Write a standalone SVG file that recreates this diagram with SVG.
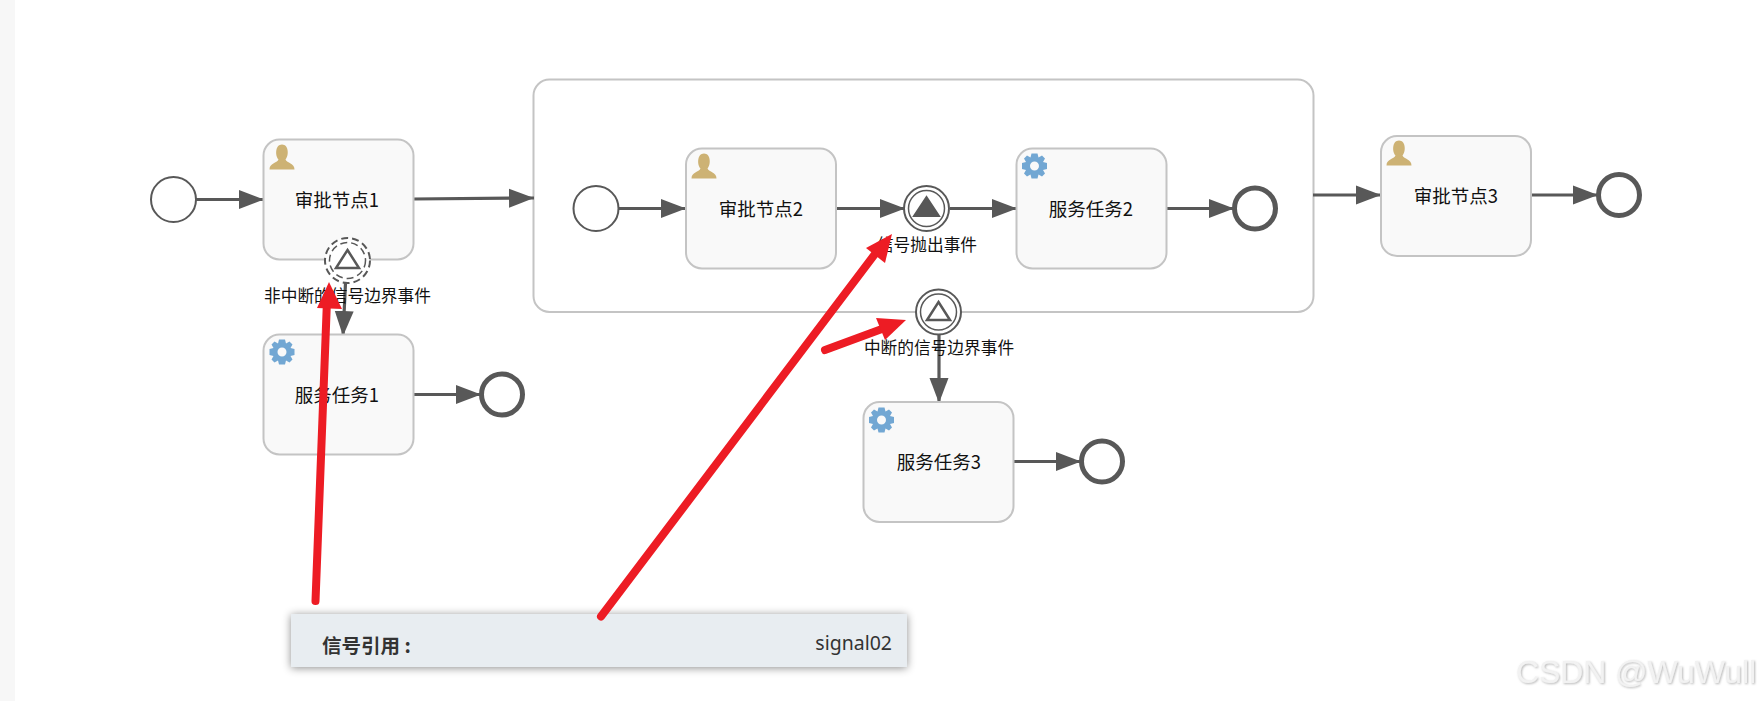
<svg xmlns="http://www.w3.org/2000/svg" width="1761" height="701" viewBox="0 0 1761 701">
<style>
.task{fill:#f9f9f9;stroke:#c4c4c4;stroke-width:2}
.sub{fill:#fff;stroke:#c4c4c4;stroke-width:2}
.start{fill:#fff;stroke:#585858;stroke-width:2}
.end{fill:#fff;stroke:#585858;stroke-width:5}
.ev{fill:#fff;stroke:#585858;stroke-width:2}
.ev2{fill:none;stroke:#585858;stroke-width:1.5}
.dash{stroke-dasharray:7 4}
.tri{fill:none;stroke:#585858;stroke-width:2.500}
.flow{fill:none;stroke:#585858;stroke-width:3.200;marker-end:url(#ah)}
.t{font-family:"Noto Sans CJK SC","Noto Sans",sans-serif;fill:#111;text-anchor:middle}
.tl{font-size:18.500px}
.el{font-size:16.700px}
.red{fill:none;stroke:#ed1c24;stroke-width:8;stroke-linecap:round}
.redh{fill:#ed1c24}
.u{fill:#cdb274}
.g{fill:#72a7d3}
</style>
<defs>
<marker id="ah" markerUnits="userSpaceOnUse" markerWidth="25" markerHeight="20" refX="25" refY="10" orient="auto"><path d="M0 0.500L25 10L0 19.500Z" fill="#585858"/></marker>
<filter id="sh" x="-5%" y="-30%" width="110%" height="160%"><feDropShadow dx="0" dy="1" stdDeviation="4" flood-color="#000" flood-opacity=".45"/></filter>
<filter id="wm" x="-5%" y="-20%" width="110%" height="140%"><feDropShadow dx="1" dy="1" stdDeviation=".8" flood-color="#888" flood-opacity=".6"/></filter>
<g id="user"><path class="u" d="M-12.500 12.500C-12.500 6 -5 6 -3.500 2.500C-7 -1 -7 -12.500 0 -12.500C7 -12.500 7 -1 3.500 2.500C5 6 12.500 6 12.500 12.500Z"/></g>
<g id="gear"><path class="g" fill-rule="evenodd" d="M-3 -12.500H3L4 -8.500L7.500 -10.500L10.500 -7.500L8.500 -4L12.500 -3V3L8.500 4L10.500 7.500L7.500 10.500L4 8.500L3 12.500H-3L-4 8.500L-7.500 10.500L-10.500 7.500L-8.500 4L-12.500 3V-3L-8.500 -4L-10.500 -7.500L-7.500 -10.500L-4 -8.500ZM0 -4.500A4.500 4.500 0 1 0 0 4.500A4.500 4.500 0 1 0 0 -4.500Z"/></g>
</defs>
<rect width="1761" height="701" fill="#fff"/>
<rect width="15" height="701" fill="#f7f7f7"/>
<g id="sub-process"><rect class="sub" x="533.500" y="79.500" width="780" height="232.500" rx="16"/></g>
<g id="connectors">
<path class="flow" d="M196 199.500H264"/>
<path class="flow" d="M413 199L534 198"/>
<path class="flow" d="M345.500 283L343 336"/>
<path class="flow" d="M413 394.500H481"/>
<path class="flow" d="M618 208.500H686"/>
<path class="flow" d="M836 208.500H905"/>
<path class="flow" d="M950 208.500H1017"/>
<path class="flow" d="M1166 208.500H1234"/>
<path class="flow" d="M1313 195H1381"/>
<path class="flow" d="M1531 195H1598"/>
<path class="flow" d="M939 335V403"/>
<path class="flow" d="M1013 461.500H1081"/>
</g>
<g id="start1"><circle class="start" cx="173.500" cy="199.500" r="22.500"/></g>
<g id="task1"><rect class="task" x="263.500" y="139.500" width="150" height="120" rx="16"/><use href="#user" x="282" y="157"/><text class="t tl" x="337" y="207">审批节点1</text></g>
<g id="boundary1"><circle class="ev dash" cx="347.500" cy="260.500" r="22.500"/><circle class="ev2 dash" cx="347.500" cy="260.500" r="18"/><path class="tri" d="M347.500 250L359 268H336Z"/><text class="t el" x="347.500" y="302">非中断的信号边界事件</text></g>
<g id="task-svc1"><rect class="task" x="263.500" y="334.500" width="150" height="120" rx="16"/><use href="#gear" x="282" y="352"/><text class="t tl" x="337" y="402">服务任务1</text></g>
<g id="end1"><circle class="end" cx="502" cy="394.500" r="20.500"/></g>
<g id="start2"><circle class="start" cx="596" cy="208.500" r="22.500"/></g>
<g id="task2"><rect class="task" x="686" y="148.500" width="150" height="120" rx="16"/><use href="#user" x="704" y="166"/><text class="t tl" x="761" y="216">审批节点2</text></g>
<g id="throw"><circle class="ev" cx="926.500" cy="208.500" r="22.500"/><circle class="ev2" cx="926.500" cy="208.500" r="18"/><path d="M926.500 197L939 216H914Z" fill="#585858" stroke="#585858" stroke-width="2"/><text class="t el" x="927" y="251">信号抛出事件</text></g>
<g id="task-svc2"><rect class="task" x="1016.500" y="148.500" width="150" height="120" rx="16"/><use href="#gear" x="1034.500" y="166"/><text class="t tl" x="1091" y="216">服务任务2</text></g>
<g id="end2"><circle class="end" cx="1255" cy="208.500" r="20.500"/></g>
<g id="boundary2"><circle class="ev" cx="938.500" cy="312" r="22.500"/><circle class="ev2" cx="938.500" cy="312" r="18"/><path class="tri" d="M938.500 302L950 320H927Z"/><text class="t el" x="939" y="354">中断的信号边界事件</text></g>
<g id="task-svc3"><rect class="task" x="863.500" y="402" width="150" height="120" rx="16"/><use href="#gear" x="881.500" y="420"/><text class="t tl" x="939" y="469">服务任务3</text></g>
<g id="end3"><circle class="end" cx="1102" cy="461.500" r="20.500"/></g>
<g id="task3"><rect class="task" x="1381" y="136" width="150" height="120" rx="16"/><use href="#user" x="1399" y="153"/><text class="t tl" x="1456" y="203">审批节点3</text></g>
<g id="end4"><circle class="end" cx="1619" cy="195" r="20.500"/></g>
<rect x="291" y="614" width="616" height="53" fill="#e8edf1" filter="url(#sh)"/>
<text x="322" y="653" font-family="'Noto Sans CJK SC',sans-serif" font-size="19.500" font-weight="700" fill="#333">信号引用 :</text>
<text x="892" y="650" font-family="'Noto Sans','Noto Sans CJK SC',sans-serif" font-size="19.500" fill="#333" text-anchor="end">signal02</text>
<path class="red" d="M315.500 601L327 300"/><path class="redh" d="M329 282L342 309L317 308Z"/>
<path class="red" d="M601 616.500L878 250"/><path class="redh" d="M892 234L885 263L866 248Z"/>
<path class="red" d="M825 350L890 326"/><path class="redh" d="M906 320L885 340L876 318Z"/>
<text x="1516" y="683" font-family="'Liberation Sans',sans-serif" font-size="32" fill="#f2f2f2" filter="url(#wm)" textLength="240">CSDN @WuWull</text>
</svg>
